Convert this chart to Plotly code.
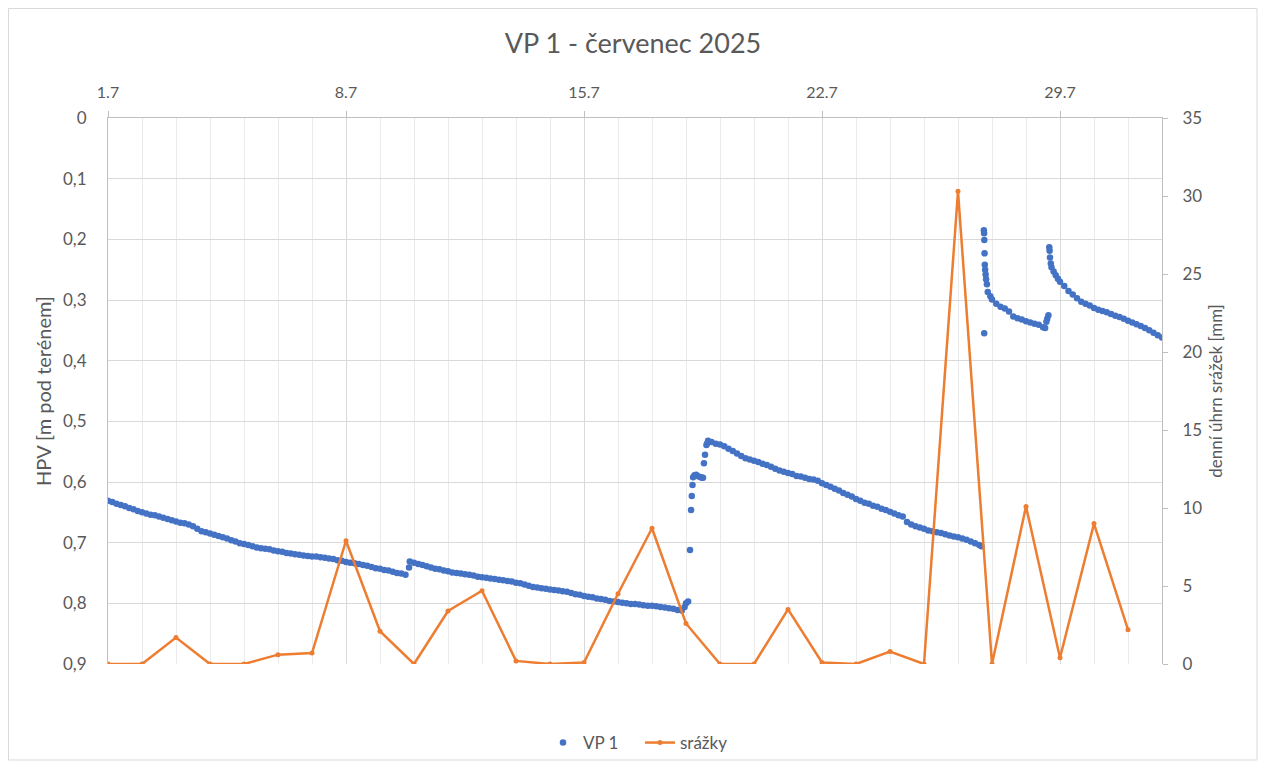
import pandas as pd
import plotly.graph_objects as go

# ---------------- data ----------------
# VP 1 groundwater level [m below ground], 3-hourly readings (00,03,...,21 h) per day of July 2025
vp1_daily_3h = [
    [0.631, 0.633, 0.636, 0.638, 0.640, 0.643, 0.645, 0.648],  # 1.7
    [0.650, 0.652, 0.654, 0.655, 0.657, 0.659, 0.661, 0.663],  # 2.7
    [0.665, 0.667, 0.668, 0.670, 0.673, 0.677, 0.681, 0.683],  # 3.7
    [0.685, 0.687, 0.689, 0.691, 0.693, 0.696, 0.698, 0.701],  # 4.7
    [0.702, 0.704, 0.706, 0.708, 0.709, 0.710, 0.711, 0.713],  # 5.7
    [0.714, 0.715, 0.717, 0.718, 0.719, 0.720, 0.721, 0.722],  # 6.7
    [0.723, 0.723, 0.724, 0.725, 0.726, 0.727, 0.729, 0.730],  # 7.7
    [0.732, 0.733, 0.734, 0.735, 0.737, 0.738, 0.740, 0.742],  # 8.7
    [0.743, 0.745, 0.746, 0.748, 0.750, 0.751, 0.753, 0.731],  # 9.7
    [0.733, 0.735, 0.737, 0.739, 0.741, 0.743, 0.744, 0.746],  # 10.7
    [0.747, 0.749, 0.750, 0.751, 0.752, 0.753, 0.754, 0.756],  # 11.7
    [0.757, 0.758, 0.759, 0.760, 0.761, 0.762, 0.763, 0.764],  # 12.7
    [0.766, 0.767, 0.769, 0.771, 0.773, 0.774, 0.775, 0.776],  # 13.7
    [0.777, 0.778, 0.779, 0.780, 0.781, 0.783, 0.785, 0.786],  # 14.7
    [0.788, 0.789, 0.790, 0.792, 0.793, 0.794, 0.796, 0.797],  # 15.7
    [0.798, 0.799, 0.800, 0.801, 0.801, 0.802, 0.803, 0.804],  # 16.7
    [0.804, 0.805, 0.806, 0.807, 0.808, 0.809, 0.811, 0.812],  # 17.7
    [0.800, None, 0.589, 0.591, 0.593, 0.536, 0.534, 0.537],   # 18.7
    [0.538, 0.541, 0.545, 0.549, 0.553, 0.557, 0.561, 0.563],  # 19.7
    [0.565, 0.567, 0.570, 0.572, 0.575, 0.578, 0.581, 0.583],  # 20.7
    [0.585, 0.587, 0.590, 0.591, 0.593, 0.595, 0.596, 0.598],  # 21.7
    [0.602, 0.605, 0.608, 0.611, 0.614, 0.618, 0.621, 0.624],  # 22.7
    [0.628, 0.631, 0.634, 0.636, 0.639, 0.641, 0.644, 0.646],  # 23.7
    [0.649, 0.652, 0.655, 0.657, 0.666, 0.670, 0.673, 0.675],  # 24.7
    [0.677, 0.680, 0.681, 0.683, 0.684, 0.686, 0.688, 0.690],  # 25.7
    [0.691, 0.693, 0.695, 0.698, 0.701, 0.704, None, 0.287],   # 26.7
    [0.299, 0.306, 0.311, 0.314, 0.319, 0.327, 0.330, 0.332],  # 27.7
    [0.335, 0.337, 0.339, 0.341, 0.345, 0.331, 0.246, 0.259],  # 28.7
    [0.270, 0.277, 0.285, 0.291, 0.297, 0.303, 0.306, 0.309],  # 29.7
    [0.313, 0.316, 0.318, 0.320, 0.323, 0.326, 0.328, 0.331],  # 30.7
    [0.334, 0.337, 0.340, 0.343, 0.346, 0.350, 0.354, 0.358],  # 31.7
]

# additional irregular readings (around the rapid rises)
vp1_extra_time = [
    "2025-07-09 20:30",
    "2025-07-17 23:00", "2025-07-18 01:30",
    "2025-07-18 02:50", "2025-07-18 03:35", "2025-07-18 04:05", "2025-07-18 04:35",
    "2025-07-18 05:00", "2025-07-18 07:10", "2025-07-18 10:30", "2025-07-18 11:15",
    "2025-07-18 12:40", "2025-07-18 13:25", "2025-07-18 14:25", "2025-07-18 15:35",
    "2025-07-26 16:30", "2025-07-26 18:15", "2025-07-26 18:25", "2025-07-26 18:30",
    "2025-07-26 18:35", "2025-07-26 18:45", "2025-07-26 18:55", "2025-07-26 19:10",
    "2025-07-26 19:30", "2025-07-26 19:50", "2025-07-26 20:25", "2025-07-26 22:50",
    "2025-07-28 13:30", "2025-07-28 14:25", "2025-07-28 15:50",
    "2025-07-28 16:25", "2025-07-28 16:40", "2025-07-28 16:55", "2025-07-28 17:30",
    "2025-07-28 19:30", "2025-07-28 22:30",
    "2025-08-01 00:00",
]
vp1_extra_value = [
    0.741,
    0.806, 0.797,
    0.712, 0.646, 0.623, 0.605,
    0.592, 0.588, 0.592, 0.593,
    0.569, 0.555, 0.539, 0.532,
    0.706, 0.185, 0.190, 0.355,
    0.201, 0.223, 0.242, 0.250,
    0.258, 0.266, 0.274, 0.294,
    0.346, 0.336, 0.325,
    0.213, 0.219, 0.230, 0.240,
    0.253, 0.265,
    0.362,
]

# daily precipitation [mm]
rain_dates = pd.date_range("2025-07-01", "2025-07-31", freq="D")
rain_mm = [0.0, 0.0, 1.7, 0.0, 0.0, 0.6, 0.7, 7.9, 2.1, 0.0, 3.4, 4.7, 0.2, 0.0, 0.1,
           4.5, 8.7, 2.6, 0.0, 0.0, 3.5, 0.1, 0.0, 0.8, 0.0, 30.3, 0.0, 10.1, 0.4, 9.0, 2.2]

week_ticks = ["2025-07-01", "2025-07-08", "2025-07-15", "2025-07-22", "2025-07-29"]
week_labels = ["1.7", "8.7", "15.7", "22.7", "29.7"]

# ---------------- build ----------------
reg_times = pd.date_range("2025-07-01 00:00", periods=31 * 8, freq="3h")
reg_values = [v for day in vp1_daily_3h for v in day]
vp_x = list(reg_times) + list(pd.to_datetime(vp1_extra_time))
vp_y = reg_values + vp1_extra_value

BLUE = "#4472C4"
ORANGE = "#ED7D31"
TXT = "#595959"
GRID = "#D9D9D9"
FONT = "Lato"

fig = go.Figure()
fig.add_trace(go.Scatter(
    x=vp_x, y=vp_y, name="VP 1", mode="markers",
    marker=dict(color=BLUE, size=6.5, line=dict(width=0)),
    yaxis="y",
))
fig.add_trace(go.Scatter(
    x=rain_dates, y=rain_mm, name="srážky", mode="lines+markers",
    line=dict(color=ORANGE, width=2.5),
    marker=dict(color=ORANGE, size=5),
    yaxis="y2",
))

# page body has an 8px margin -> figure coordinates = screen - 8
OFF = 8
W, H = 1266 - 2 * OFF, 769 - 2 * OFF
L, R, T, B = 108 - OFF, 1162 - OFF, 118 - OFF, 664 - OFF
pw, ph = R - L, B - T

def sx(x):  # screen x -> paper
    return (x - OFF - L) / pw

def sy(y):  # screen y -> paper
    return (B - (y - OFF)) / ph

fig.update_layout(
    width=W, height=H,
    margin=dict(l=L, r=W - R, t=T, b=H - B, autoexpand=False),
    paper_bgcolor="white", plot_bgcolor="white",
    separators=", ",
    font=dict(family=FONT, size=17, color=TXT),
    title=dict(text="VP 1 - červenec 2025", x=0.5, xanchor="center",
               y=1 - (44 - OFF) / H, yanchor="middle",
               font=dict(family=FONT, size=27, color=TXT)),
    showlegend=True,
    legend=dict(orientation="h", x=sx(543), xanchor="left",
                y=sy(743), yanchor="middle",
                bgcolor="rgba(0,0,0,0)",
                entrywidth=52, entrywidthmode="pixels",
                font=dict(family=FONT, size=17, color=TXT),
                traceorder="normal"),
    xaxis=dict(
        type="date", side="top",
        range=["2025-07-01 00:00", "2025-08-01 00:00"],
        tickmode="array", tickvals=week_ticks, ticktext=week_labels,
        ticks="outside", ticklen=6, tickcolor="#BFBFBF",
        ticklabelstandoff=7,
        showline=True, linecolor="#BFBFBF", linewidth=1,
        showgrid=True, gridcolor=GRID, gridwidth=1,
        minor=dict(dtick=86400000, showgrid=True, gridcolor="#EBEBEB", gridwidth=1,
                   ticks=""),
        tickfont=dict(family=FONT, size=16, color=TXT),
        zeroline=False,
    ),
    yaxis=dict(
        range=[0.9, 0], dtick=0.1, tick0=0,
        showgrid=True, gridcolor=GRID, gridwidth=1,
        showline=True, linecolor="#BFBFBF", linewidth=1,
        ticks="", ticklabelstandoff=17,
        zeroline=False,
        tickfont=dict(family=FONT, size=17, color=TXT),
        title=dict(text="HPV [m pod terénem]", standoff=6,
                   font=dict(family=FONT, size=20, color=TXT)),
    ),
    yaxis2=dict(
        range=[0, 35], dtick=5, tick0=0,
        overlaying="y", side="right",
        showgrid=False, zeroline=False,
        showline=True, linecolor="#BFBFBF", linewidth=1,
        ticks="outside", ticklen=5, tickcolor="#BFBFBF",
        ticklabelstandoff=11,
        tickfont=dict(family=FONT, size=17, color=TXT),
        title=dict(text="denní úhrn srážek [mm]", standoff=8,
                   font=dict(family=FONT, size=17, color=TXT)),
    ),
    shapes=[dict(type="rect", xref="paper", yref="paper",
                 x0=sx(8.5), x1=sx(1257), y0=sy(760), y1=sy(8.5),
                 line=dict(color="#D9D9D9", width=1), fillcolor="rgba(0,0,0,0)",
                 layer="below")],
)

fig.write_html("out.html")
